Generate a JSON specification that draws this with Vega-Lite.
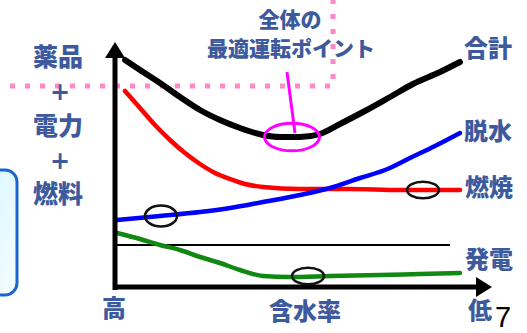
{
  "$schema": "https://vega.github.io/schema/vega-lite/v6.json",
  "width": 527,
  "height": 333,
  "padding": 0,
  "autosize": "none",
  "background": "white",
  "config": {"view": {"stroke": null}},
  "datasets": {
    "curves": [
      {"series": "合計", "i": 1, "x": 10, "y": 227}, {"series": "合計", "i": 2, "x": 25, "y": 217}, {"series": "合計", "i": 3, "x": 45, "y": 204}, {"series": "合計", "i": 4, "x": 65, "y": 190}, {"series": "合計", "i": 5, "x": 85, "y": 177}, {"series": "合計", "i": 6, "x": 105, "y": 167}, {"series": "合計", "i": 7, "x": 125, "y": 159}, {"series": "合計", "i": 8, "x": 148, "y": 152}, {"series": "合計", "i": 9, "x": 165, "y": 150}, {"series": "合計", "i": 10, "x": 185, "y": 150}, {"series": "合計", "i": 11, "x": 205, "y": 153}, {"series": "合計", "i": 12, "x": 225, "y": 163}, {"series": "合計", "i": 13, "x": 248, "y": 175}, {"series": "合計", "i": 14, "x": 275, "y": 190}, {"series": "合計", "i": 15, "x": 298, "y": 203}, {"series": "合計", "i": 16, "x": 325, "y": 215}, {"series": "合計", "i": 17, "x": 345, "y": 225},
      {"series": "燃焼", "i": 1, "x": 10, "y": 196}, {"series": "燃焼", "i": 2, "x": 25, "y": 179}, {"series": "燃焼", "i": 3, "x": 40, "y": 162}, {"series": "燃焼", "i": 4, "x": 55, "y": 147}, {"series": "燃焼", "i": 5, "x": 70, "y": 134}, {"series": "燃焼", "i": 6, "x": 85, "y": 123}, {"series": "燃焼", "i": 7, "x": 100, "y": 114}, {"series": "燃焼", "i": 8, "x": 115, "y": 108}, {"series": "燃焼", "i": 9, "x": 130, "y": 103}, {"series": "燃焼", "i": 10, "x": 148, "y": 100}, {"series": "燃焼", "i": 11, "x": 185, "y": 98}, {"series": "燃焼", "i": 12, "x": 235, "y": 98}, {"series": "燃焼", "i": 13, "x": 285, "y": 97}, {"series": "燃焼", "i": 14, "x": 345, "y": 97},
      {"series": "脱水", "i": 1, "x": 2, "y": 67}, {"series": "脱水", "i": 2, "x": 45, "y": 71}, {"series": "脱水", "i": 3, "x": 85, "y": 75}, {"series": "脱水", "i": 4, "x": 115, "y": 79}, {"series": "脱水", "i": 5, "x": 148, "y": 85}, {"series": "脱水", "i": 6, "x": 185, "y": 92}, {"series": "脱水", "i": 7, "x": 215, "y": 99}, {"series": "脱水", "i": 8, "x": 245, "y": 109}, {"series": "脱水", "i": 9, "x": 270, "y": 117}, {"series": "脱水", "i": 10, "x": 295, "y": 129}, {"series": "脱水", "i": 11, "x": 320, "y": 141}, {"series": "脱水", "i": 12, "x": 345, "y": 154},
      {"series": "発電", "i": 1, "x": 2, "y": 54}, {"series": "発電", "i": 2, "x": 25, "y": 48}, {"series": "発電", "i": 3, "x": 45, "y": 42}, {"series": "発電", "i": 4, "x": 65, "y": 37}, {"series": "発電", "i": 5, "x": 85, "y": 30}, {"series": "発電", "i": 6, "x": 105, "y": 24}, {"series": "発電", "i": 7, "x": 125, "y": 17}, {"series": "発電", "i": 8, "x": 148, "y": 11}, {"series": "発電", "i": 9, "x": 175, "y": 10}, {"series": "発電", "i": 10, "x": 215, "y": 11}, {"series": "発電", "i": 11, "x": 265, "y": 12}, {"series": "発電", "i": 12, "x": 305, "y": 13}, {"series": "発電", "i": 13, "x": 345, "y": 14}
    ]
  },
  "encoding": {
    "x": {"field": "x", "type": "quantitative", "scale": {"domain": [-115, 412], "nice": false, "zero": false}, "axis": null},
    "y": {"field": "y", "type": "quantitative", "scale": {"domain": [-46, 287], "nice": false, "zero": false}, "axis": null}
  },
  "layer": [
    {
      "data": {"values": [{"x": -140, "x2": -98, "y": -8, "y2": 117}]},
      "mark": {"type": "rect", "clip": false, "cornerRadius": 12, "stroke": "#1a66cc", "strokeWidth": 3,
        "fill": {"gradient": "linear", "x1": 0, "y1": 0, "x2": 1, "y2": 1, "stops": [{"offset": 0, "color": "#d4f6ff"}, {"offset": 1, "color": "#f6fdff"}]}},
      "encoding": {"x2": {"field": "x2"}, "y2": {"field": "y2"}}
    },
    {
      "data": {"values": [{"i": 1, "x": -120, "y": 201}, {"i": 2, "x": 218, "y": 201}, {"i": 3, "x": 218, "y": 295}]},
      "mark": {"type": "line", "clip": false, "color": "#ff88c8", "strokeWidth": 5, "strokeDash": [5, 10], "strokeCap": "butt"},
      "encoding": {"order": {"field": "i", "type": "quantitative"}}
    },
    {
      "data": {"values": [{"x": 0, "x2": 335, "y": 42}]},
      "mark": {"type": "rule", "color": "black", "strokeWidth": 2},
      "encoding": {"x2": {"field": "x2"}}
    },
    {
      "data": {"name": "curves"},
      "transform": [{"filter": "datum.series !== '合計'"}],
      "mark": {"type": "line", "interpolate": "monotone", "strokeWidth": 4.5, "strokeCap": "round"},
      "encoding": {
        "color": {"field": "series", "type": "nominal", "scale": {"domain": ["合計", "燃焼", "脱水", "発電"], "range": ["#000000", "#ff0000", "#0000ff", "#118811"]}, "legend": null},
        "order": {"field": "i", "type": "quantitative"}
      }
    },
    {
      "data": {"name": "curves"},
      "transform": [{"filter": "datum.series === '合計'"}],
      "mark": {"type": "line", "interpolate": "monotone", "strokeWidth": 6, "strokeCap": "round", "color": "#000000"},
      "encoding": {"order": {"field": "i", "type": "quantitative"}}
    },
    {
      "data": {"values": [{"x": 0, "y": -3, "y2": 229}]},
      "mark": {"type": "rule", "color": "black", "strokeWidth": 5},
      "encoding": {"y2": {"field": "y2"}}
    },
    {
      "data": {"values": [{"x": -2, "x2": 363, "y": 0}]},
      "mark": {"type": "rule", "color": "black", "strokeWidth": 5},
      "encoding": {"x2": {"field": "x2"}}
    },
    {
      "data": {"values": [{"x": 0, "y": 237}]},
      "mark": {"type": "point", "filled": true, "color": "black", "opacity": 1, "size": 400, "shape": "M0,-0.8L1,0.8L-1,0.8Z"}
    },
    {
      "data": {"values": [{"x": 369, "y": 0}]},
      "mark": {"type": "point", "filled": true, "color": "black", "opacity": 1, "size": 400, "shape": "M0.8,0L-0.8,1L-0.8,-1Z"}
    },
    {
      "data": {"values": [{"x": 172, "y": 215, "x2": 180, "y2": 154}]},
      "mark": {"type": "rule", "color": "#ff00ff", "strokeWidth": 3},
      "encoding": {"x2": {"field": "x2"}, "y2": {"field": "y2"}}
    },
    {
      "data": {"values": [{"x": 177, "y": 150}]},
      "mark": {"type": "point", "filled": false, "stroke": "#ff00ff", "strokeWidth": 3, "opacity": 1, "size": 3025, "shape": "M-1,0A1,0.5 0 1,0 1,0A1,0.5 0 1,0 -1,0Z"}
    },
    {
      "data": {"values": [{"x": 46, "y": 71}]},
      "mark": {"type": "point", "filled": false, "stroke": "#111111", "strokeWidth": 2.5, "opacity": 1, "size": 1024, "shape": "M-1,0A1,0.65 0 1,0 1,0A1,0.65 0 1,0 -1,0Z"}
    },
    {
      "data": {"values": [{"x": 193, "y": 11}, {"x": 308, "y": 97}]},
      "mark": {"type": "point", "filled": false, "stroke": "#111111", "strokeWidth": 2.5, "opacity": 1, "size": 1024, "shape": "M-1,0A1,0.52 0 1,0 1,0A1,0.52 0 1,0 -1,0Z"}
    },
    {
      "data": {"values": [{"x": 175, "y": 266, "label": "全体の"}, {"x": 176, "y": 237, "label": "最適運転ポイント"}]},
      "mark": {"type": "text", "font": "Noto Sans CJK JP", "fontWeight": 900, "fontSize": 21, "color": "#3d5a9e", "align": "center", "baseline": "middle"},
      "encoding": {"text": {"field": "label"}}
    },
    {
      "data": {"values": [{"x": -57, "y": 229, "label": "薬品"}, {"x": -57, "y": 160, "label": "電力"}, {"x": -57, "y": 92, "label": "燃料"}]},
      "mark": {"type": "text", "font": "Noto Sans CJK JP", "fontWeight": 900, "fontSize": 25, "color": "#3d5a9e", "align": "center", "baseline": "middle"},
      "encoding": {"text": {"field": "label"}}
    },
    {
      "data": {"values": [{"x": -55, "y": 194, "label": "+"}, {"x": -55, "y": 125, "label": "+"}]},
      "mark": {"type": "text", "font": "DejaVu Sans", "fontWeight": "bold", "fontSize": 24, "color": "#3d5a9e", "align": "center", "baseline": "middle"},
      "encoding": {"text": {"field": "label"}}
    },
    {
      "data": {"values": [{"x": 373, "y": 237, "label": "合計"}, {"x": 373, "y": 154, "label": "脱水"}, {"x": 374, "y": 98, "label": "燃焼"}, {"x": 374, "y": 26, "label": "発電"}, {"x": -1, "y": -23, "label": "高"}, {"x": 190, "y": -26, "label": "含水率"}, {"x": 365, "y": -25, "label": "低"}]},
      "mark": {"type": "text", "font": "Noto Sans CJK JP", "fontWeight": 900, "fontSize": 24, "color": "#3d5a9e", "align": "center", "baseline": "middle"},
      "encoding": {"text": {"field": "label"}}
    },
    {
      "data": {"values": [{"x": 388, "y": -31, "label": "7"}]},
      "mark": {"type": "text", "font": "Liberation Sans", "fontSize": 29, "color": "#000000", "align": "center", "baseline": "middle"},
      "encoding": {"text": {"field": "label"}}
    }
  ]
}
